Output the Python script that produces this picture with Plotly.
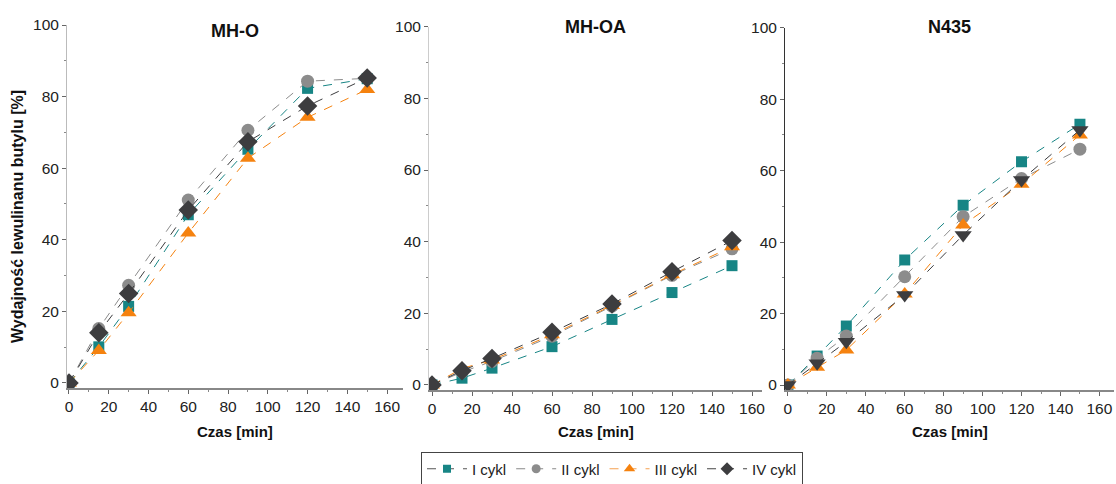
import plotly.graph_objects as go

time_min = [0, 15, 30, 60, 90, 120, 150]
panels = ["MH-O", "MH-OA", "N435"]
series_names = ["I cykl", "II cykl", "III cykl", "IV cykl"]

mho_I = [0, 10.1, 21.4, 47.0, 65.3, 82.3, 85.0]
mho_II = [0, 15.2, 27.3, 51.1, 70.6, 84.3, 85.1]
mho_III = [0, 9.1, 19.6, 41.9, 62.8, 74.2, 82.0]
mho_IV = [0, 14.0, 25.0, 48.3, 67.4, 77.4, 85.2]

mhoa_I = [0, 1.9, 4.7, 10.7, 18.3, 25.8, 33.3]
mhoa_II = [0, 3.6, 6.6, 13.6, 22.0, 30.6, 38.0]
mhoa_III = [0, 4.6, 7.0, 14.0, 22.2, 30.8, 38.6]
mhoa_IV = [0, 4.0, 7.4, 14.7, 22.6, 31.6, 40.3]

n435_I = [0, 8.1, 16.5, 35.0, 50.3, 62.5, 73.0]
n435_II = [0, 7.5, 13.7, 30.3, 47.1, 57.8, 66.0]
n435_III = [0, 5.0, 9.8, 25.5, 44.8, 56.2, 70.0]
n435_IV = [0, 6.1, 12.1, 25.2, 42.0, 57.4, 71.4]

data = [
    [mho_I, mho_II, mho_III, mho_IV],
    [mhoa_I, mhoa_II, mhoa_III, mhoa_IV],
    [n435_I, n435_II, n435_III, n435_IV],
]

colors = ["#178585", "#8c8c8c", "#f5820f", "#3d3d3f"]
legend_line_colors = ["#555555", "#888888", "#f5a050", "#444444"]
symbols = ["square", "circle", "triangle-up", "diamond"]
sizes = [11, 13, 14, 15]
legend_sizes = [8, 9, 10, 10]

W, H = 1116, 484
def px(x):
    return x / W
def py(y):
    return 1 - y / H

x_doms = [(67, 403), (429, 762), (785, 1114)]
x_ranges = [(-1.0, 168), (-1.5, 165), (-1.5, 167.5)]
y_doms = [(25, 388), (26.7, 390), (27.7, 390)]
y_range = (-1.4, 100)
yline_colors = ["#bbbbbb", "#cccccc", "#333333"]
title_y = [31, 27, 27]

fig = go.Figure()
for p in range(3):
    ax = "" if p == 0 else str(p + 1)
    for s in range(4):
        sym = symbols[s]
        if p == 2 and s == 3:
            sym = "triangle-down"
        fig.add_trace(go.Scatter(
            x=time_min, y=data[p][s], name=series_names[s],
            mode="lines+markers",
            line=dict(color=colors[s], width=1, dash="dash"),
            marker=dict(symbol=sym, size=sizes[s], color=colors[s]),
            xaxis="x" + ax, yaxis="y" + ax,
            showlegend=False,
        ))

# legend-only entries
for s in range(4):
    fig.add_trace(go.Scatter(
        x=[None], y=[None], name=series_names[s], mode="lines+markers",
        line=dict(color=legend_line_colors[s], width=1, dash="dash"),
        marker=dict(symbol=symbols[s], size=legend_sizes[s], color=colors[s]),
        showlegend=True,
    ))

layout = dict(
    width=W, height=H,
    margin=dict(l=0, r=0, t=0, b=0, autoexpand=False),
    paper_bgcolor="white", plot_bgcolor="white",
    font=dict(family="Liberation Sans, Arial, sans-serif", color="#222222"),
    showlegend=True,
    legend=dict(
        orientation="h", x=px(612), y=py(469), xanchor="center", yanchor="middle",
        bordercolor="#444444", borderwidth=1, font=dict(size=15, color="#222222"),
        itemwidth=40, tracegroupgap=0,
    ),
)
for p in range(3):
    ax = "" if p == 0 else str(p + 1)
    layout["xaxis" + ax] = dict(
        domain=[px(x_doms[p][0]), px(x_doms[p][1])], range=list(x_ranges[p]),
        anchor="y" + ax, tickvals=[0, 20, 40, 60, 80, 100, 120, 140, 160],
        ticks="outside", ticklen=4, tickcolor="#666666",
        minor=dict(dtick=10, tick0=0, ticks="outside", ticklen=2, tickcolor="#888888"),
        showline=True, linecolor="#888888", linewidth=1.5,
        showgrid=False, zeroline=False, ticklabeloverflow="allow",
        tickfont=dict(size=15.5, color="#222222"),
    )
    layout["yaxis" + ax] = dict(
        domain=[py(y_doms[p][1]), py(y_doms[p][0])], range=list(y_range), anchor="x" + ax,
        tickvals=[0, 20, 40, 60, 80, 100],
        ticks="outside", ticklen=4, tickcolor="#666666",
        minor=dict(dtick=10, tick0=0, ticks="outside", ticklen=2, tickcolor="#888888"),
        showline=True, linecolor=yline_colors[p], linewidth=1,
        showgrid=False, zeroline=False, ticklabeloverflow="allow",
        tickfont=dict(size=15.5, color="#222222"),
    )
fig.update_layout(**layout)

for p in range(3):
    cx = (x_doms[p][0] + x_doms[p][1]) / 2
    fig.add_annotation(x=px(cx), y=py(title_y[p]), xref="paper", yref="paper",
                       text="<b>%s</b>" % panels[p], showarrow=False,
                       font=dict(size=18, color="#111111"),
                       xanchor="center", yanchor="middle")
    fig.add_annotation(x=px(cx), y=py(431), xref="paper", yref="paper",
                       text="<b>Czas [min]</b>", showarrow=False,
                       font=dict(size=15, color="#111111"),
                       xanchor="center", yanchor="middle")

fig.add_annotation(x=px(17), y=py(217), xref="paper", yref="paper",
                   text="<b>Wydajność lewulinanu butylu [%]</b>", showarrow=False,
                   textangle=-90, font=dict(size=16, color="#111111"),
                   xanchor="center", yanchor="middle")

fig.write_html("out.html")
